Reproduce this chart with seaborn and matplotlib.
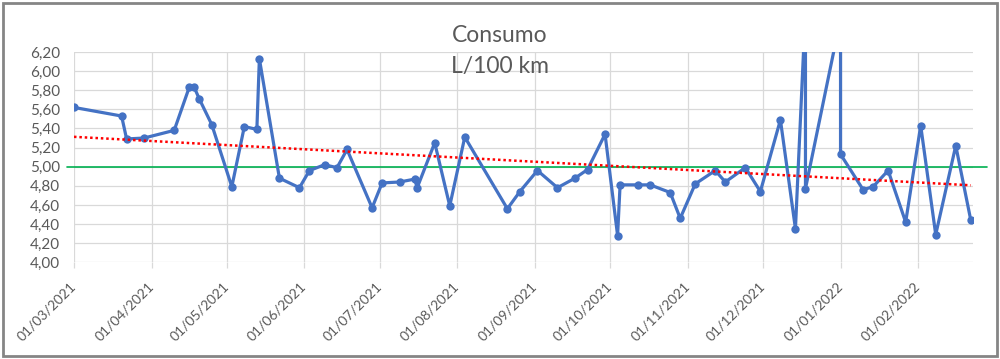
import matplotlib
matplotlib.use("Agg")
import matplotlib.pyplot as plt
import matplotlib.dates as mdates
from matplotlib.patches import Rectangle
import numpy as np
import pandas as pd
import seaborn as sns

# ---- data ----
dates = ["2021-03-01", "2021-03-20", "2021-03-22", "2021-03-29", "2021-04-10", "2021-04-16",
         "2021-04-18", "2021-04-20", "2021-04-25", "2021-05-03", "2021-05-08", "2021-05-13",
         "2021-05-14", "2021-05-22", "2021-05-30", "2021-06-03", "2021-06-09", "2021-06-14",
         "2021-06-18", "2021-06-28", "2021-07-02", "2021-07-09", "2021-07-15", "2021-07-16",
         "2021-07-23", "2021-07-29", "2021-08-04", "2021-08-21", "2021-08-26", "2021-09-02",
         "2021-09-10", "2021-09-17", "2021-09-22", "2021-09-29", "2021-10-04", "2021-10-05",
         "2021-10-12", "2021-10-17", "2021-10-25", "2021-10-29", "2021-11-04", "2021-11-12",
         "2021-11-16", "2021-11-24", "2021-11-30", "2021-12-08", "2021-12-14", "2021-12-18",
         "2021-12-18", "2022-01-01", "2022-01-01", "2022-01-10", "2022-01-14", "2022-01-20",
         "2022-01-27", "2022-02-02", "2022-02-08", "2022-02-16", "2022-02-22"]
consumo = [5.62, 5.53, 5.29, 5.30, 5.38, 5.83, 5.83, 5.71, 5.44, 4.79, 5.42, 5.39,
           6.13, 4.88, 4.78, 4.96, 5.02, 4.99, 5.18, 4.57, 4.83, 4.84, 4.87, 4.78,
           5.25, 4.59, 5.31, 4.56, 4.74, 4.96, 4.78, 4.88, 4.97, 5.34, 4.28, 4.81,
           4.81, 4.81, 4.73, 4.46, 4.82, 4.96, 4.84, 4.99, 4.74, 5.49, 4.35, 6.65,
           4.77, 6.55, 5.13, 4.76, 4.79, 4.96, 4.42, 5.43, 4.29, 5.22, 4.44]
objetivo = 5.00
y_ticks = [4.00, 4.20, 4.40, 4.60, 4.80, 5.00, 5.20, 5.40, 5.60, 5.80, 6.00, 6.20]
x_ticks = ["2021-03-01", "2021-04-01", "2021-05-01", "2021-06-01", "2021-07-01", "2021-08-01",
           "2021-09-01", "2021-10-01", "2021-11-01", "2021-12-01", "2022-01-01", "2022-02-01"]
x_range = ["2021-03-01", "2022-02-23"]
title_lines = ["Consumo", "L/100 km"]

df = pd.DataFrame({"fecha": pd.to_datetime(dates), "consumo": consumo})

# ---- style ----
sns.set_theme(style="white")
plt.rcParams["font.family"] = ["Lato", "DejaVu Sans"]
TXT = "#595959"
GRID = "#D9D9D9"

fig = plt.figure(figsize=(10, 3.59), dpi=100)
ax = fig.add_axes([0.074, 0.2694, 0.8993, 0.5858])

# trend (linear fit over the series)
xnum = mdates.date2num(df["fecha"])
coef = np.polyfit(xnum, df["consumo"], 1)
xt = np.array([xnum.min(), xnum.max()])
ax.plot(mdates.num2date(xt), np.polyval(coef, xt), color="#FF0000", lw=1.8,
        linestyle=(0, (1, 1.15)), zorder=4)

# target line
ax.axhline(objetivo, xmin=-0.0081, xmax=1.0152, clip_on=False, color="#00B050",
           lw=1.2, zorder=2)

# series
sns.lineplot(data=df, x="fecha", y="consumo", ax=ax, estimator=None, sort=False,
             color="#4472C4", lw=2.3, marker="o", markersize=6,
             markeredgewidth=0, zorder=3)

ax.set_ylim(y_ticks[0], y_ticks[-1])
ax.set_xlim(pd.to_datetime(x_range[0]), pd.to_datetime(x_range[1]))
ax.set_yticks(y_ticks)
ax.set_yticklabels([f"{v:.2f}".replace(".", ",") for v in y_ticks])
xt_dates = pd.to_datetime(x_ticks)
ax.set_xticks(xt_dates)
ax.set_xticklabels([d.strftime("%d/%m/%Y") for d in xt_dates], rotation=45,
                   ha="right", va="center", rotation_mode="anchor")
ax.set_xlabel("")
ax.set_ylabel("")

ax.grid(True, color=GRID, lw=0.9)
ax.set_axisbelow(True)
for s in ax.spines.values():
    s.set_visible(False)
ax.tick_params(axis="y", length=0, pad=10, labelsize=11, labelcolor=TXT)
ax.tick_params(axis="x", length=4, width=0.9, color=GRID, pad=12, labelsize=10,
               labelcolor=TXT, bottom=True)

fig.text(0.5, 0.8838, title_lines[0], ha="center", va="baseline", fontsize=16.5, color=TXT)
fig.text(0.5, 0.7975, title_lines[1], ha="center", va="baseline", fontsize=16.5, color=TXT)

fig.patches.append(Rectangle((0.003, 0.0092), 0.9937, 0.9825, transform=fig.transFigure,
                             fill=False, edgecolor="#858585", lw=2.0))

fig.savefig("out.png", dpi=100)
